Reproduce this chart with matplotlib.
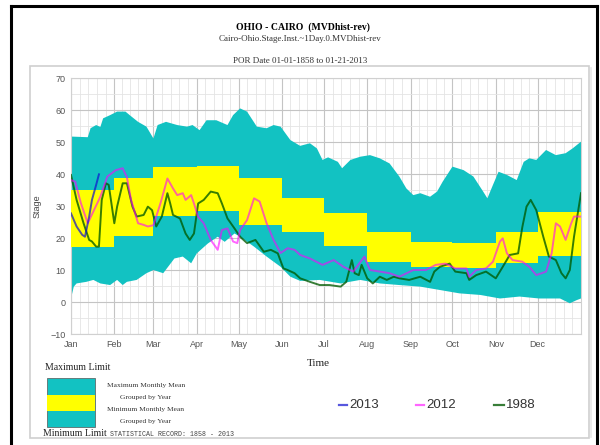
import numpy as np
import matplotlib
matplotlib.use("Agg")
import matplotlib.pyplot as plt
from matplotlib.patches import Rectangle
from matplotlib.lines import Line2D

W, H = 600, 445

months = ['Jan', 'Feb', 'Mar', 'Apr', 'May', 'Jun',
          'Jul', 'Aug', 'Sep', 'Oct', 'Nov', 'Dec']
month_start = [0, 31, 59, 90, 120, 151, 181, 212, 243, 273, 304, 334]
month_len = [31, 28, 31, 30, 31, 30, 31, 31, 30, 31, 30, 31]

# monthly mean band (yellow)
mean_max = [35.0, 38.6, 42.1, 42.5, 38.6, 32.4, 27.7, 21.8, 18.9, 18.5, 22.0, 28.2]
mean_min = [17.3, 20.7, 26.9, 28.4, 24.1, 22.0, 17.5, 12.6, 11.0, 10.5, 12.1, 14.4]

# maximum limit (top of cyan)
max_day = [0, 12, 14, 18, 21, 23, 28, 33, 39, 42, 48, 54, 59, 62, 68, 76, 83, 87, 92,
           97, 104, 112, 116, 121, 126, 133, 140, 145, 150, 157, 164, 171, 176, 180,
           184, 191, 194, 200, 207, 214, 221, 228, 235, 240, 245, 250, 257, 262, 266,
           273, 281, 288, 295, 298, 302, 306, 312, 319, 324, 328, 333, 340, 347, 354,
           359, 365]
max_val = [51.7, 51.5, 54.3, 55.3, 54.7, 57.4, 58.4, 59.5, 59.5, 58.4, 56.3, 54.8, 51.1,
           55.3, 56.3, 55.3, 54.8, 55.3, 53.7, 56.8, 56.8, 55.3, 58.4, 60.5, 59.5, 54.8,
           54.3, 55.3, 54.8, 50.6, 48.8, 49.6, 48.0, 44.4, 45.2, 43.8, 41.8, 44.4, 45.4,
           45.9, 44.9, 43.3, 39.2, 35.5, 33.4, 34.0, 32.9, 34.5, 37.6, 42.3, 41.2, 39.2,
           34.5, 32.4, 36.6, 40.7, 39.7, 38.1, 43.8, 44.9, 44.4, 47.5, 45.9, 46.5, 48.0,
           50.1]

# minimum limit (bottom of cyan)
min_day = [0, 2, 4, 11, 16, 21, 28, 33, 37, 40, 47, 54, 59, 66, 74, 80, 86, 90, 98,
           105, 110, 117, 121, 131, 140, 150, 157, 164, 178, 193, 207, 221, 235, 250,
           264, 278, 293, 307, 321, 335, 350, 357, 362, 365]
min_val = [1.1, 4.8, 5.8, 6.3, 6.9, 5.8, 5.3, 6.9, 5.3, 6.3, 6.9, 9.0, 10.0, 9.0, 13.6,
           14.2, 12.1, 15.2, 18.3, 20.4, 18.8, 21.4, 20.4, 17.3, 14.2, 11.0, 7.9, 6.6,
           6.9, 5.8, 6.9, 5.8, 5.3, 4.8, 3.75, 2.7, 2.2, 1.1, 1.7, 1.1, 1.1, -0.4, 0.6,
           1.1]

# 2013
y2013_day = [0, 4, 8, 10, 13, 15, 18, 20]
y2013_val = [27.7, 23.6, 21.0, 20.4, 26.7, 31.9, 36.6, 39.9]

# 2012
y2012_day = [0, 3, 7, 12, 21, 26, 32, 37, 40, 43, 48, 52, 55, 59, 64, 69, 73, 76, 80,
             82, 86, 88, 91, 95, 100, 105, 108, 112, 116, 119, 121, 126, 131, 135, 140,
             145, 150, 155, 160, 164, 171, 180, 188, 195, 202, 210, 214, 221, 228, 235,
             245, 254, 261, 268, 275, 283, 285, 290, 297, 302, 307, 309, 312, 316, 323,
             328, 333, 340, 344, 347, 350, 354, 358, 360, 365]
y2012_val = [38.1, 37.6, 31.0, 24.6, 32.9, 39.2, 41.2, 41.8, 39.0, 31.9, 24.6, 24.1,
             23.6, 24.0, 30.8, 38.6, 35.5, 33.4, 34.0, 31.9, 33.4, 30.8, 26.6, 24.6,
             19.4, 16.3, 22.5, 23.0, 18.9, 18.4, 22.5, 25.6, 32.4, 31.4, 24.6, 19.4,
             15.3, 16.8, 16.3, 14.7, 13.6, 11.6, 13.1, 11.0, 9.5, 14.2, 10.0, 9.5, 9.0,
             7.9, 10.0, 10.0, 11.6, 12.0, 10.5, 10.5, 7.9, 10.0, 10.5, 12.6, 18.9, 19.9,
             15.2, 13.1, 12.6, 11.0, 8.4, 9.5, 15.2, 24.6, 23.6, 19.4, 24.6, 26.7, 26.7]

# 1988
y1988_day = [0, 4, 9, 13, 15, 18, 20, 22, 25, 27, 31, 33, 37, 40, 44, 47, 52, 55, 58,
             61, 65, 69, 71, 73, 78, 82, 85, 88, 91, 95, 100, 105, 108, 112, 117, 121,
             126, 132, 138, 143, 148, 152, 155, 160, 164, 171, 178, 185, 193, 197, 201,
             203, 206, 208, 212, 216, 221, 226, 231, 235, 242, 250, 257, 260, 264, 271,
             275, 283, 285, 290, 297, 304, 309, 314, 320, 323, 326, 329, 333, 338, 342,
             347, 351, 354, 357, 360, 365]
y1988_val = [39.7, 31.9, 24.6, 19.4, 18.9, 17.3, 17.3, 31.9, 37.1, 36.6, 24.6, 29.8,
             37.1, 37.1, 29.8, 26.7, 27.2, 29.8, 28.7, 23.6, 26.7, 34.0, 30.8, 27.2,
             26.1, 21.4, 19.4, 21.4, 30.8, 31.9, 34.5, 34.0, 30.8, 26.1, 23.0, 20.4,
             18.4, 19.4, 15.7, 16.3, 15.2, 10.5, 10.0, 9.0, 7.4, 6.3, 5.3, 5.3, 4.8, 6.3,
             13.1, 9.0, 8.4, 11.6, 7.4, 5.8, 7.9, 6.9, 7.9, 7.4, 6.9, 7.9, 6.3, 9.5, 11.0,
             12.0, 9.5, 9.0, 6.9, 8.4, 9.5, 7.4, 11.0, 14.7, 15.2, 23.4, 29.8, 31.9, 28.7,
             20.4, 14.2, 13.1, 9.0, 7.4, 10.0, 20.4, 34.0]

CYAN = '#12C2C2'
YELLOW = '#FFFF00'
SERIF = 'Liberation Serif'
SANS = 'Liberation Sans'
MONO = 'Liberation Mono'


def fx(px):
    return px / W


def fy(py):
    return 1 - py / H


fig = plt.figure(figsize=(6, 4.45), dpi=100)
fig.patch.set_facecolor('white')

# outer black border (top, left, right) and light gray chart frame
fig.add_artist(Line2D([fx(11), fx(11)], [0, fy(6)], color='black', lw=2.2))
fig.add_artist(Line2D([fx(11), fx(597)], [fy(6), fy(6)], color='black', lw=2.2))
fig.add_artist(Line2D([fx(597), fx(597)], [0, fy(6)], color='black', lw=2.2))
fig.add_artist(Rectangle((fx(30), fy(438)), fx(589) - fx(30), fy(66) - fy(438),
                         fill=False, edgecolor='#cfcfcf', lw=1.2))
fig.add_artist(Line2D([fx(591), fx(591)], [fy(437), fy(68)], color='#e6e6e6', lw=1.2))

# titles
fig.text(0.505, fy(27), 'OHIO - CAIRO  (MVDhist-rev)', ha='center', va='center',
         fontsize=7, fontweight='bold', family=SERIF)
fig.text(0.5, fy(39), 'Cairo-Ohio.Stage.Inst.~1Day.0.MVDhist-rev', ha='center',
         va='center', fontsize=6.5, family=SERIF, color='#333333')
fig.text(0.5, fy(61), 'POR Date 01-01-1858 to 01-21-2013', ha='center', va='center',
         fontsize=6.5, family=SERIF, color='#333333')

ax = fig.add_axes([fx(71), fy(334), fx(581) - fx(71), fy(78) - fy(334)])
ax.set_xlim(0, 365)
ax.set_ylim(-10, 70)

# grid
minor_x = [s + k * l / 5 for s, l in zip(month_start, month_len) for k in range(1, 5)]
ax.set_xticks(month_start)
ax.set_xticklabels(months)
ax.set_xticks(minor_x, minor=True)
ax.set_yticks(range(-10, 71, 10))
ax.set_yticks(range(-5, 70, 10), minor=True)
ax.grid(which='major', color='#c4c4c4', lw=0.8)
ax.grid(which='minor', color='#e4e4e4', lw=0.6)
ax.set_axisbelow(True)
ax.tick_params(which='both', length=0, labelsize=6.5, labelcolor='#555555', pad=4)
for lbl in ax.get_xticklabels() + ax.get_yticklabels():
    lbl.set_family(SANS)
for sp in ax.spines.values():
    sp.set_color('#d0d0d0')
    sp.set_linewidth(0.8)

# cyan envelope (max limit forward, min limit back) and yellow monthly band
env_x = list(max_day) + list(min_day[::-1])
env_y = list(max_val) + list(min_val[::-1])
ax.fill(env_x, env_y, color=CYAN, lw=0, zorder=2)
ax.bar(month_start, np.array(mean_max) - np.array(mean_min), bottom=mean_min,
       width=month_len, align='edge', color=YELLOW, lw=0, zorder=3)

# year lines
ax.plot(y1988_day, y1988_val, color='#005a00', alpha=0.78, lw=1.4, zorder=4)
ax.plot(y2012_day, y2012_val, color='#FF00FF', alpha=0.6, lw=1.4, zorder=5)
ax.plot(y2013_day, y2013_val, color='#1010D0', alpha=0.7, lw=1.4, zorder=6)

ax.set_ylabel('Stage', fontsize=6.5, family=SANS, color='#444444', labelpad=6)
fig.text(fx(318), fy(363), 'Time', ha='center', va='center', fontsize=8,
         family=SERIF, color='#222222')

# band legend
fig.text(fx(45), fy(367), 'Maximum Limit', ha='left', va='center', fontsize=7,
         family=SERIF, color='#222222')
fig.add_artist(Rectangle((fx(47), fy(427)), fx(95) - fx(47), fy(378) - fy(427),
                         facecolor=CYAN, edgecolor='#555555', lw=0.5))
fig.add_artist(Rectangle((fx(47), fy(411)), fx(95) - fx(47), fy(395) - fy(411),
                         facecolor=YELLOW, edgecolor='none'))
fig.text(fx(43), fy(433), 'Minimum Limit', ha='left', va='center', fontsize=7,
         family=SERIF, color='#222222')
for txt, yy in [('Maximum Monthly Mean', 386), ('Grouped by Year', 397),
                ('Minimum Monthly Mean', 410), ('Grouped by Year', 421)]:
    fig.text(fx(146), fy(yy), txt, ha='center', va='center', fontsize=5.4,
             family=SERIF, color='#333333')
fig.text(fx(110), fy(435), 'STATISTICAL RECORD: 1858 - 2013', ha='left', va='center',
         fontsize=4.8, family=MONO, color='#444444')

# year legend
for name, col, alpha, x0, x1 in [('2013', '#1010D0', 0.7, 339, 347),
                                  ('2012', '#FF00FF', 0.6, 416, 424),
                                  ('1988', '#005a00', 0.78, 494, 504)]:
    fig.add_artist(Line2D([fx(x0), fx(x1)], [fy(405), fy(405)], color=col,
                          alpha=alpha, lw=1.6))
    fig.text(fx(x1 + 2), fy(405), name, ha='left', va='center', fontsize=9.5,
             family=SANS, color='#333333')

fig.savefig('out.png', dpi=100)
